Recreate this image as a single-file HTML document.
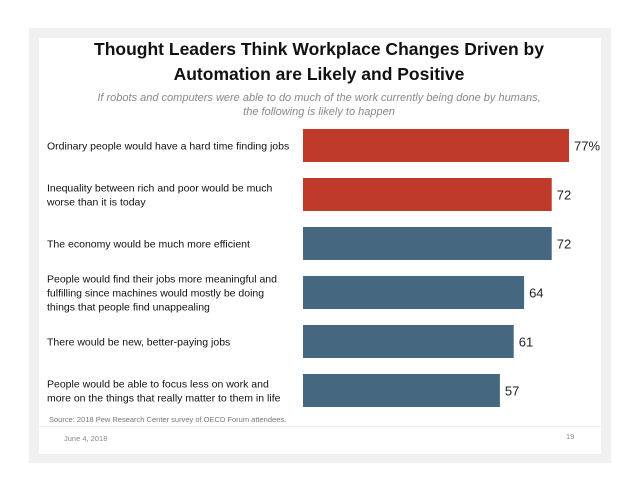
<!DOCTYPE html>
<html><head><meta charset="utf-8"><style>
body{margin:0;width:638px;height:493px;background:#fff;position:relative;overflow:hidden;font-family:"Liberation Sans Narrow","Liberation Sans",sans-serif}
#frame{position:absolute;left:29px;top:28px;width:582px;height:435px;background:#f0f0f0}
#slide{position:absolute;left:39px;top:38px;width:562px;height:416px;background:#fff}
.t{position:absolute;white-space:nowrap}
</style></head><body>
<div id="frame"></div>
<div id="slide"></div>
<div class="t" style="left:0;width:638px;top:37px;text-align:center;font-family:'Liberation Sans Narrow','Liberation Sans',sans-serif;font-weight:bold;font-size:17.5px;line-height:25px;color:#111">Thought Leaders Think Workplace Changes Driven by<br>Automation are Likely and Positive</div>
<div class="t" style="left:0;width:638px;top:91px;text-align:center;font-style:italic;font-size:11px;line-height:14px;color:#888">If robots and computers were able to do much of the work currently being done by humans,<br>the following is likely to happen</div>
<svg id="chart" width="638" height="493" style="position:absolute;left:0;top:0"></svg>
<div class="t" style="left:49px;top:415px;font-size:7.5px;color:#777">Source: 2018 Pew Research Center survey of OECD Forum attendees.</div>
<div style="position:absolute;left:39px;top:426px;width:562px;height:1px;background:#eee"></div>
<div class="t" style="left:64px;top:434px;font-size:7.5px;color:#888">June 4, 2018</div>
<div class="t" style="left:566px;top:432px;font-size:7.5px;color:#888">19</div>
<script>
const categories=["Ordinary people would have a hard time finding jobs","Inequality between rich and poor would be much|worse than it is today","The economy would be much more efficient","People would find their jobs more meaningful and|fulfilling since machines would mostly be doing|things that people find unappealing","There would be new, better-paying jobs","People would be able to focus less on work and|more on the things that really matter to them in life"];
const values=[77,72,72,64,61,57];
const valueLabels=["77%","72","72","64","61","57"];
const colors=["#bf3a2b","#bf3a2b","#456880","#456880","#456880","#456880"];
const NS="http://www.w3.org/2000/svg";
const svg=document.getElementById('chart');
const x0=303, unit=266/77;
const xs=v=>x0+v*unit;
const ys=i=>129+i*49;
const bh=33;
categories.forEach((c,i)=>{
  const r=document.createElementNS(NS,'rect');
  r.setAttribute('x',x0);r.setAttribute('y',ys(i));
  r.setAttribute('width',xs(values[i])-x0);r.setAttribute('height',bh);
  r.setAttribute('fill',colors[i]);
  
  
  svg.appendChild(r);
  const v=document.createElementNS(NS,'text');
  v.setAttribute('x',xs(values[i])+5);v.setAttribute('y',ys(i)+bh/2+5);
  v.setAttribute('font-size','13');v.setAttribute('fill','#222');
  v.setAttribute('font-family','Liberation Sans Narrow, Liberation Sans, sans-serif');
  v.textContent=valueLabels[i];
  
  
  svg.appendChild(v);
  const lines=c.split('|');
  const t=document.createElementNS(NS,'text');
  t.setAttribute('font-size','10.5');t.setAttribute('fill','#111');
  t.setAttribute('font-family','Liberation Sans Narrow, Liberation Sans, sans-serif');
  
  
  const lh=14, start=ys(i)+bh/2+4-(lines.length-1)*lh/2;
  lines.forEach((l,j)=>{
    const ts=document.createElementNS(NS,'tspan');
    ts.setAttribute('x',47);ts.setAttribute('y',start+j*lh);
    ts.textContent=l;t.appendChild(ts);
  });
  svg.appendChild(t);
});
</script>
</body></html>
